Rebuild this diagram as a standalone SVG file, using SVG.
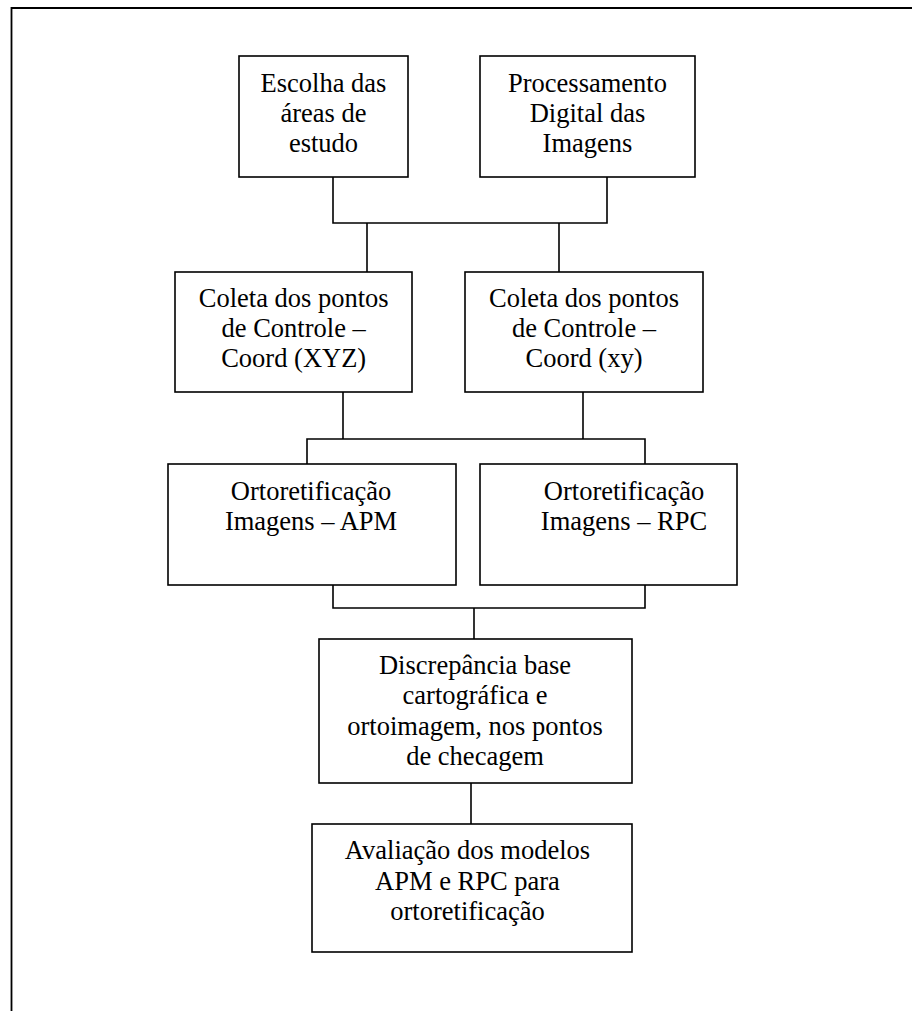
<svg xmlns="http://www.w3.org/2000/svg" width="912" height="1011" viewBox="0 0 912 1011">
  <style>
    .box { fill: #ffffff; stroke: #000000; stroke-width: 1.6; }
    .lbl { font-family: "Liberation Serif", "Times New Roman", serif; font-size: 26.5px; fill: #000000; text-anchor: middle; }
    .wire { fill: none; stroke: #000000; stroke-width: 1.6; }
    .frame { fill: none; stroke: #000000; stroke-width: 1.8; }
  </style>
  <rect width="912" height="1011" fill="#ffffff"/>

  <!-- outer frame, open to the right and bottom -->
  <path class="frame" d="M11.5,1015 V8 H920"/>

  <g id="connectors">
    <path class="wire" d="M333,177 V223 H607 V177"/>
    <path class="wire" d="M367,223 V272"/>
    <path class="wire" d="M559,223 V272"/>
    <path class="wire" d="M343,392 V439"/>
    <path class="wire" d="M583,392 V439"/>
    <path class="wire" d="M307,464 V439 H645 V464"/>
    <path class="wire" d="M333,585 V608 H645 V585"/>
    <path class="wire" d="M474,608 V639"/>
    <path class="wire" d="M471,783 V824"/>
  </g>

  <g id="escolha">
    <rect class="box" x="239" y="56" width="169" height="121"/>
    <text class="lbl" x="323.5" y="91.7">Escolha das</text>
    <text class="lbl" x="323.5" y="121.7">áreas de</text>
    <text class="lbl" x="323.5" y="151.7">estudo</text>
  </g>

  <g id="processamento">
    <rect class="box" x="480" y="56" width="215" height="121"/>
    <text class="lbl" x="587.5" y="91.7">Processamento</text>
    <text class="lbl" x="587.5" y="121.7">Digital das</text>
    <text class="lbl" x="587.5" y="151.7">Imagens</text>
  </g>

  <g id="coleta-xyz">
    <rect class="box" x="175" y="272" width="237" height="120"/>
    <text class="lbl" x="293.7" y="306.7">Coleta dos pontos</text>
    <text class="lbl" x="293.7" y="336.7">de Controle –</text>
    <text class="lbl" x="293.7" y="366.7">Coord (XYZ)</text>
  </g>

  <g id="coleta-xy">
    <rect class="box" x="465" y="272" width="238" height="120"/>
    <text class="lbl" x="584" y="306.7">Coleta dos pontos</text>
    <text class="lbl" x="584" y="336.7">de Controle –</text>
    <text class="lbl" x="584" y="366.7">Coord (xy)</text>
  </g>

  <g id="orto-apm">
    <rect class="box" x="168" y="464" width="288" height="121"/>
    <text class="lbl" x="311" y="500">Ortoretificação</text>
    <text class="lbl" x="311" y="530">Imagens – APM</text>
  </g>

  <g id="orto-rpc">
    <rect class="box" x="480" y="464" width="257" height="121"/>
    <text class="lbl" x="624" y="500">Ortoretificação</text>
    <text class="lbl" x="624" y="530">Imagens – RPC</text>
  </g>

  <g id="discrepancia">
    <rect class="box" x="319" y="639" width="313" height="144"/>
    <text class="lbl" x="475" y="674">Discrepância base</text>
    <text class="lbl" x="475" y="704">cartográfica e</text>
    <text class="lbl" x="475" y="735">ortoimagem, nos pontos</text>
    <text class="lbl" x="475" y="765">de checagem</text>
  </g>

  <g id="avaliacao">
    <rect class="box" x="312" y="824" width="320" height="128"/>
    <text class="lbl" x="467.5" y="859">Avaliação dos modelos</text>
    <text class="lbl" x="467.5" y="889.5">APM e RPC para</text>
    <text class="lbl" x="467.5" y="920">ortoretificação</text>
  </g>
</svg>
